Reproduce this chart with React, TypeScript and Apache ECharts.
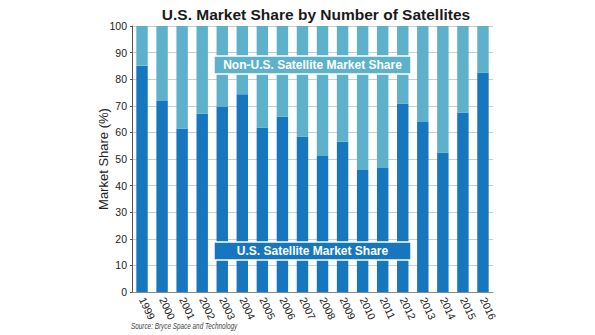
import React, { useEffect, useRef } from "react";
import * as echarts from "echarts";

const years = ["1999","2000","2001","2002","2003","2004","2005","2006","2007","2008","2009","2010","2011","2012","2013","2014","2015","2016"];
const usShare = [85.1, 71.8, 61.5, 67.0, 69.7, 74.3, 61.8, 65.9, 58.5, 51.1, 56.5, 45.9, 46.6, 70.9, 63.9, 52.4, 67.5, 82.4];
const nonUsShare = usShare.map((v) => +(100 - v).toFixed(1));
const yTicks = [0, 10, 20, 30, 40, 50, 60, 70, 80, 90, 100];

const DARK = "#1777be";
const LIGHT = "#5eb1ca";
const FONT = "'Liberation Sans', Arial, Helvetica, sans-serif";

export default function App() {
  const ref = useRef<HTMLDivElement>(null);
  useEffect(() => {
    if (!ref.current) return;
    const chart = echarts.init(ref.current, null, { renderer: "svg" });
    chart.setOption({
      animation: false,
      backgroundColor: "#ffffff",
      textStyle: { fontFamily: FONT },
      title: {
        text: "U.S. Market Share by Number of Satellites",
        left: 311,
        textAlign: "center",
        top: 1,
        textStyle: { fontSize: 15.5, fontWeight: "bold", color: "#1a1a1a", fontFamily: FONT },
      },
      grid: { left: 132, right: 102, top: 26, bottom: 43, containLabel: false },
      xAxis: {
        type: "category",
        data: years,
        axisLine: { show: true, lineStyle: { color: "#888", width: 1 } },
        axisTick: { show: false },
        axisLabel: { rotate: -65, color: "#222", fontSize: 10.5, margin: 6, interval: 0 },
        splitLine: { show: false },
      },
      yAxis: {
        type: "value",
        min: yTicks[0],
        max: yTicks[yTicks.length - 1],
        interval: 10,
        name: "Market Share (%)",
        nameLocation: "middle",
        nameGap: 22,
        nameMoveOverlap: false,
        nameTextStyle: { fontSize: 13, color: "#222" },
        axisLine: { show: true, lineStyle: { color: "#555", width: 1 } },
        axisTick: { show: true, length: 2, lineStyle: { color: "#555" } },
        axisLabel: { color: "#222", fontSize: 10.5, margin: 5 },
        splitLine: { show: true, lineStyle: { color: "#cccccc", width: 1 } },
      },
      series: [
        {
          name: "U.S. Satellite Market Share",
          type: "bar",
          stack: "s",
          data: usShare,
          barWidth: "57%",
          itemStyle: { color: DARK },
        },
        {
          name: "Non-U.S. Satellite Market Share",
          type: "bar",
          stack: "s",
          data: nonUsShare,
          barWidth: "57%",
          itemStyle: { color: LIGHT },
        },
      ],
      graphic: [
        {
          type: "rect",
          shape: { x: 214, y: 56, width: 197, height: 18 },
          style: { fill: LIGHT, stroke: "#ffffff", lineWidth: 1.5 },
          z: 100,
        },
        {
          type: "text",
          x: 312.5,
          y: 65,
          style: {
            text: "Non-U.S. Satellite Market Share",
            fill: "#ffffff",
            font: `bold 12px ${FONT}`,
            textAlign: "center",
            textVerticalAlign: "middle",
          },
          z: 101,
        },
        {
          type: "rect",
          shape: { x: 214, y: 242, width: 197, height: 18 },
          style: { fill: DARK, stroke: "#ffffff", lineWidth: 1.5 },
          z: 100,
        },
        {
          type: "text",
          x: 312.5,
          y: 251,
          style: {
            text: "U.S. Satellite Market Share",
            fill: "#ffffff",
            font: `bold 12px ${FONT}`,
            textAlign: "center",
            textVerticalAlign: "middle",
          },
          z: 101,
        },
        {
          type: "text",
          x: 131,
          y: 322,
          scaleX: 0.75,
          style: {
            text: "Source: Bryce Space and Technology",
            fill: "#444",
            font: `italic 8.5px ${FONT}`,
          },
        },
      ],
    });
    return () => chart.dispose();
  }, []);
  return <div ref={ref} style={{ width: 595, height: 335, position: "absolute", left: 0, top: 0 }} />;
}
